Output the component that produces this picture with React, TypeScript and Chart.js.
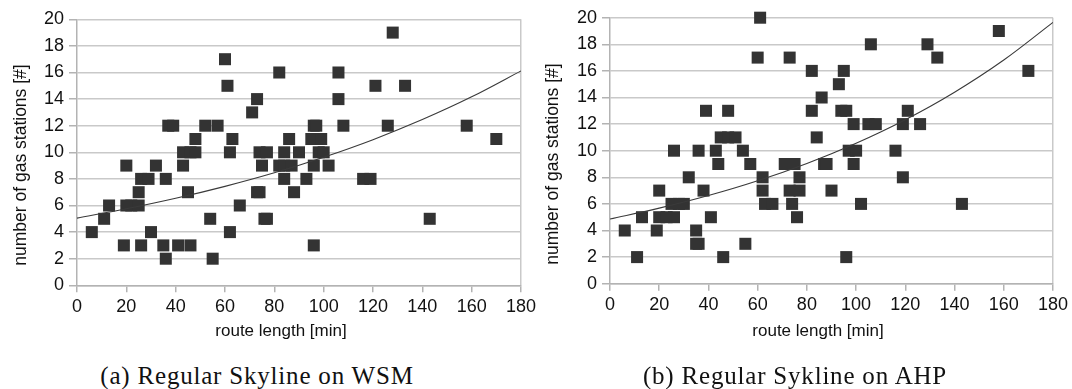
import React, { useEffect, useRef } from "react";
import { Chart, registerables } from "chart.js";

Chart.register(...registerables);

// (a) Regular Skyline on WSM
const routeLengthWSM = [6, 11, 13, 19, 20, 20, 22, 25, 25, 26, 29, 26, 30, 32, 35, 36, 36, 37, 39, 41, 43, 45, 46, 43, 46, 48, 48, 52, 54, 55, 57, 60, 61, 62, 63, 62, 66, 71, 73, 73, 74, 74, 77, 75, 76, 77, 82, 86, 84, 82, 84, 87, 84, 88, 90, 93, 96, 97, 95, 99, 96, 98, 100, 102, 96, 106, 106, 108, 116, 119, 121, 126, 128, 133, 143, 158, 170];
const gasStationsWSM = [4, 5, 6, 3, 9, 6, 6, 6, 7, 8, 8, 3, 4, 9, 3, 2, 8, 12, 12, 3, 9, 7, 3, 10, 10, 10, 11, 12, 5, 2, 12, 17, 15, 10, 11, 4, 6, 13, 14, 7, 7, 10, 10, 9, 5, 5, 16, 11, 10, 9, 9, 9, 8, 7, 10, 8, 12, 12, 11, 11, 9, 10, 10, 9, 3, 16, 14, 12, 8, 8, 15, 12, 19, 15, 5, 12, 11];

// (b) Regular Sykline on AHP
const routeLengthAHP = [6, 11, 13, 19, 20, 20, 23, 26, 26, 25, 28, 30, 32, 35, 35, 36, 36, 38, 39, 41, 43, 44, 46, 48, 45, 48, 51, 54, 55, 57, 62, 61, 60, 62, 63, 66, 73, 71, 75, 73, 77, 74, 76, 77, 82, 82, 84, 86, 87, 88, 90, 93, 95, 94, 96, 96, 99, 97, 100, 99, 102, 106, 105, 108, 116, 119, 119, 121, 126, 129, 133, 143, 158, 170];
const gasStationsAHP = [4, 2, 5, 4, 7, 5, 5, 5, 10, 6, 6, 6, 8, 4, 3, 3, 10, 7, 13, 5, 10, 9, 2, 13, 11, 11, 11, 10, 3, 9, 8, 20, 17, 7, 6, 6, 17, 9, 9, 7, 7, 6, 5, 8, 16, 13, 11, 14, 9, 9, 7, 15, 16, 13, 13, 2, 12, 10, 10, 9, 6, 18, 12, 12, 10, 12, 8, 13, 12, 18, 17, 6, 19, 16];

// trend lines at these route lengths
const trendX = [0, 20, 40, 60, 80, 100, 120, 140, 160, 180];
const trendWSM = [5.05, 5.75, 6.54, 7.44, 8.46, 9.63, 10.95, 12.46, 14.17, 16.12];
const trendAHP = [4.86, 5.68, 6.63, 7.74, 9.04, 10.56, 12.33, 14.4, 16.82, 19.65];

const xMin = 0;
const xMax = 180;
const xStep = 20;
const yMin = 0;
const yMax = 20;
const yStep = 2;

const xTitle = "route length [min]";
const yTitle = "number of gas stations [#]";
const captionA = "(a) Regular Skyline on WSM";
const captionB = "(b) Regular Sykline on AHP";

const SANS = "'Liberation Sans', Arial, sans-serif";

type PlotProps = {
  xs: number[];
  ys: number[];
  trend: number[];
  left: number;
  top: number;
  width: number;
  height: number;
  padTop: number;
  padRight: number;
  xAxisHeight: number;
};

function Plot(p: PlotProps) {
  const ref = useRef<HTMLCanvasElement | null>(null);
  useEffect(() => {
    if (!ref.current) return;
    const pts = p.xs.map((x, i) => ({ x, y: p.ys[i] }));
    const tr = trendX.map((x, i) => ({ x, y: p.trend[i] }));
    const gridGray = "#c9c9c9";
    const axisGray = "#b3b3b3";
    const chart = new Chart(ref.current, {
      type: "scatter",
      data: {
        datasets: [
          {
            data: tr,
            showLine: true,
            borderColor: "#3a3a3a",
            borderWidth: 1.1,
            pointRadius: 0,
            cubicInterpolationMode: "monotone",
            fill: false,
            order: 0,
          } as any,
          {
            data: pts,
            pointStyle: "rect",
            pointRadius: 8.5,
            pointBackgroundColor: "#333333",
            pointBorderColor: "#333333",
            pointBorderWidth: 0,
            showLine: false,
            clip: false,
            order: 1,
          } as any,
        ],
      },
      options: {
        animation: false,
        responsive: false,
        maintainAspectRatio: false,
        devicePixelRatio: 1,
        layout: { padding: { top: p.padTop, right: p.padRight, bottom: 0, left: 0 } },
        plugins: { legend: { display: false }, tooltip: { enabled: false } },
        scales: {
          x: {
            type: "linear",
            min: xMin,
            max: xMax,
            ticks: {
              stepSize: xStep,
              color: "#111",
              font: { family: SANS, size: 18 },
              padding: 4,
              maxRotation: 0,
              autoSkip: false,
            },
            grid: {
              color: (ctx: any) =>
                ctx.tick && ctx.tick.value === xMax ? gridGray : "rgba(0,0,0,0)",
              lineWidth: 1.5,
              tickColor: axisGray,
              tickLength: 7,
            },
            border: { color: axisGray, width: 1.5 },
            title: { display: false },
            afterFit: (s: any) => {
              s.height = p.xAxisHeight;
            },
          },
          y: {
            type: "linear",
            min: yMin,
            max: yMax,
            ticks: {
              stepSize: yStep,
              color: "#111",
              font: { family: SANS, size: 18 },
              padding: 5,
            },
            grid: {
              color: gridGray,
              lineWidth: 1.5,
              tickColor: axisGray,
              tickLength: 8,
            },
            border: { color: axisGray, width: 1.5 },
            title: { display: false },
            afterFit: (s: any) => {
              s.width = 77;
            },
          },
        },
      } as any,
    });
    return () => chart.destroy();
  }, []);
  return (
    <canvas
      ref={ref}
      width={p.width}
      height={p.height}
      style={{
        position: "absolute",
        left: p.left,
        top: p.top,
        width: p.width,
        height: p.height,
        display: "block",
      }}
    />
  );
}

const axisTitleStyle: React.CSSProperties = {
  position: "absolute",
  width: 300,
  height: 20,
  lineHeight: "20px",
  textAlign: "center",
  fontFamily: SANS,
  fontSize: 17,
  color: "#111",
  whiteSpace: "nowrap",
};

function XTitle({ cx, cy }: { cx: number; cy: number }) {
  return <div style={{ ...axisTitleStyle, left: cx - 150, top: cy - 10 }}>{xTitle}</div>;
}

function YTitle({ cx, cy }: { cx: number; cy: number }) {
  return (
    <div
      style={{
        ...axisTitleStyle,
        fontSize: 17.5,
        left: cx - 150,
        top: cy - 10,
        transform: "rotate(-90deg)",
        transformOrigin: "50% 50%",
      }}
    >
      {yTitle}
    </div>
  );
}

const captionStyle: React.CSSProperties = {
  position: "absolute",
  top: 360,
  width: 500,
  textAlign: "center",
  fontFamily: "'Liberation Serif', 'Times New Roman', serif",
  fontSize: 25,
  letterSpacing: 0.8,
  lineHeight: "32px",
  color: "#111",
  whiteSpace: "nowrap",
};

export default function App() {
  return (
    <div
      style={{
        position: "absolute",
        left: 0,
        top: 0,
        width: 1072,
        height: 389,
        background: "#fff",
        overflow: "hidden",
      }}
    >
      <Plot
        xs={routeLengthWSM}
        ys={gasStationsWSM}
        trend={trendWSM}
        left={0}
        top={0}
        width={540}
        height={345}
        padTop={19.3}
        padRight={17}
        xAxisHeight={59.7}
      />
      <Plot
        xs={routeLengthAHP}
        ys={gasStationsAHP}
        trend={trendAHP}
        left={533}
        top={0}
        width={539}
        height={345}
        padTop={17.7}
        padRight={18}
        xAxisHeight={61.3}
      />
      <XTitle cx={281} cy={331} />
      <XTitle cx={818} cy={331} />
      <YTitle cx={20} cy={164.5} />
      <YTitle cx={552} cy={163.5} />
      <div style={{ ...captionStyle, left: 257 - 250 }}>{captionA}</div>
      <div style={{ ...captionStyle, left: 795 - 250 }}>{captionB}</div>
    </div>
  );
}
